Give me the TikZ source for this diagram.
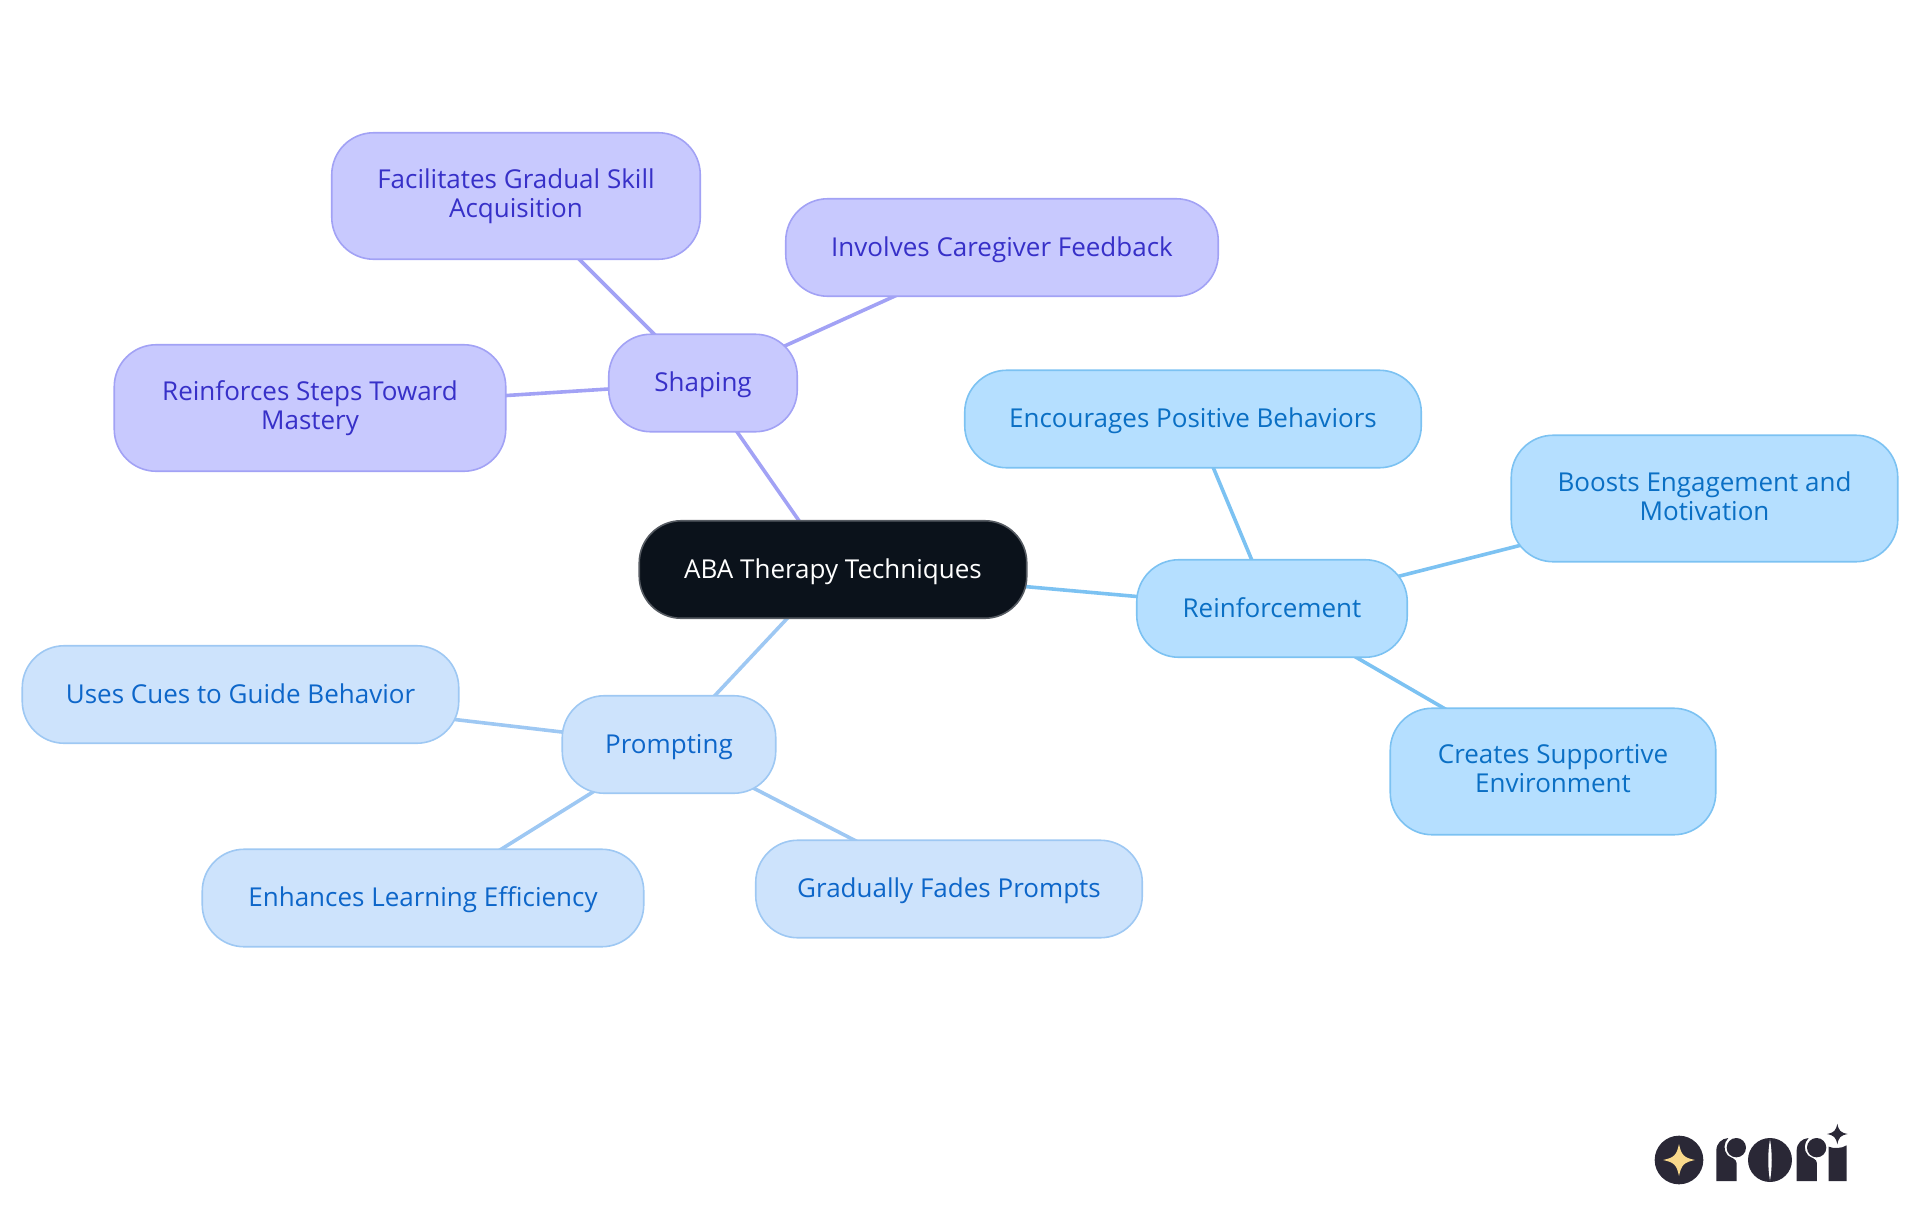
\documentclass[tikz,border=0pt]{standalone}
\usepackage{fontspec}
\setmainfont{Open Sans}
\usetikzlibrary{backgrounds}
\definecolor{rootfill}{HTML}{0B121B}
\definecolor{rootline}{HTML}{565B62}
\definecolor{shapefill}{HTML}{C8C9FE}
\definecolor{shapeline}{HTML}{A2A2F5}
\definecolor{shapetext}{HTML}{3730C8}
\definecolor{reinffill}{HTML}{B5DFFF}
\definecolor{reinfline}{HTML}{7CC2F2}
\definecolor{reinftext}{HTML}{0A6FC4}
\definecolor{promptfill}{HTML}{CDE3FC}
\definecolor{promptline}{HTML}{9EC8F3}
\definecolor{prompttext}{HTML}{0D66C9}
\definecolor{logodark}{HTML}{2A2836}
\definecolor{logostar}{HTML}{F9D98B}
\newcommand{\pillstrut}{\rule[-5.7pt]{0pt}{29pt}}
\tikzset{
	pill/.style={draw,rounded corners=42pt,line width=1.6pt,align=center,inner sep=0,
		minimum height=97.5pt,font=\fontsize{26}{29}\selectfont,
		execute at begin node=\pillstrut,execute at end node=\pillstrut},
	tall/.style={minimum height=126.5pt,execute at begin node=\rule[-5.7pt]{0pt}{32pt}},
	rootpill/.style={pill,fill=rootfill,draw=rootline,text=white},
	shapepill/.style={pill,fill=shapefill,draw=shapeline,text=shapetext},
	reinfpill/.style={pill,fill=reinffill,draw=reinfline,text=reinftext},
	promptpill/.style={pill,fill=promptfill,draw=promptline,text=prompttext},
	link/.style={line width=3.6pt},
}
\newcommand{\sparkle}[3]{% centre x, centre y, half size
	\fill (#1-#3,#2) .. controls (#1-0.3*#3,#2-0.15*#3) and (#1-0.15*#3,#2-0.3*#3) .. (#1,#2-#3)
		.. controls (#1+0.15*#3,#2-0.3*#3) and (#1+0.3*#3,#2-0.15*#3) .. (#1+#3,#2)
		.. controls (#1+0.3*#3,#2+0.15*#3) and (#1+0.15*#3,#2+0.3*#3) .. (#1,#2+#3)
		.. controls (#1-0.15*#3,#2+0.3*#3) and (#1-0.3*#3,#2+0.15*#3) .. (#1-#3,#2) -- cycle;
}
\newcommand{\logor}[1]{% left edge of the letter
	\fill[logodark] (#1,243) -- (#1,152) .. controls (#1,130) and (#1+15,116) .. (#1+36,114)
		.. controls (#1+22,128) and (#1+20,150) .. (#1+34,166)
		.. controls (#1+44,174) and (#1+61,176) .. (#1+61,190) -- (#1+61,243) -- cycle;
	\fill[logodark] (#1+60,143) circle (29);
}
\begin{document}
\begin{tikzpicture}[x=1pt,y=-1pt]
	\useasboundingbox (0,0) rectangle (1920,1215);
	\node[rootpill,minimum width=387.5pt] (root) at (833,569.5) {ABA Therapy Techniques};
	% shaping
	\node[shapepill,minimum width=188.5pt] (shaping) at (703,383) {Shaping};
	\node[shapepill,tall,minimum width=368.5pt] (facilitates) at (516,196) {Facilitates Gradual Skill\\Acquisition};
	\node[shapepill,minimum width=432.5pt] (involves) at (1002,247.5) {Involves Caregiver Feedback};
	\node[shapepill,tall,minimum width=391.5pt] (steps) at (310,408) {Reinforces Steps Toward\\Mastery};
	% reinforcement
	\node[reinfpill,minimum width=270.5pt] (reinforcement) at (1272,608.5) {Reinforcement};
	\node[reinfpill,minimum width=456.5pt] (encourages) at (1193,419) {Encourages Positive Behaviors};
	\node[reinfpill,tall,minimum width=386.5pt] (boosts) at (1704.5,498.5) {Boosts Engagement and\\Motivation};
	\node[reinfpill,tall,minimum width=325.5pt] (creates) at (1553,771.5) {Creates Supportive\\Environment};
	% prompting
	\node[promptpill,minimum width=213.5pt] (prompting) at (669,744.5) {Prompting};
	\node[promptpill,minimum width=436.5pt] (cues) at (240.5,694.5) {Uses Cues to Guide Behavior};
	\node[promptpill,minimum width=441.5pt] (enhances) at (423,898) {Enhances Learning Efficiency};
	\node[promptpill,minimum width=386.5pt] (fades) at (949,889) {Gradually Fades Prompts};
	\begin{scope}[on background layer]
		\path[link,draw=shapeline]
			(root.center) edge (shaping.center)
			(shaping.center) edge (facilitates.center)
			(shaping.center) edge (involves.center)
			(shaping.center) edge (steps.center);
		\path[link,draw=reinfline]
			(root.center) edge (reinforcement.center)
			(reinforcement.center) edge (encourages.center)
			(reinforcement.center) edge (boosts.center)
			(reinforcement.center) edge (creates.center);
		\path[link,draw=promptline]
			(root.center) edge (prompting.center)
			(prompting.center) edge (cues.center)
			(prompting.center) edge (enhances.center)
			(prompting.center) edge (fades.center);
	\end{scope}
	% logo
	\begin{scope}[shift={(1600,1100)},x=0.3333pt,y=-0.3333pt]
		\fill[logodark] (237,180) circle (73);
		\begin{scope}[logostar]
			\sparkle{237}{180}{48}
		\end{scope}
		\logor{349}
		\fill[logodark] (510,180) circle (66);
		\fill[white] (510,118) .. controls (503,160) and (503,200) .. (510,242)
			.. controls (517,200) and (517,160) .. (510,118) -- cycle;
		\logor{590}
		\fill[logodark] (686,243) -- (686,140) .. controls (700,146) and (725,146) .. (740,136) -- (740,243) -- cycle;
		\begin{scope}[logodark]
			\sparkle{712}{102}{31}
		\end{scope}
	\end{scope}
\end{tikzpicture}
\end{document}
